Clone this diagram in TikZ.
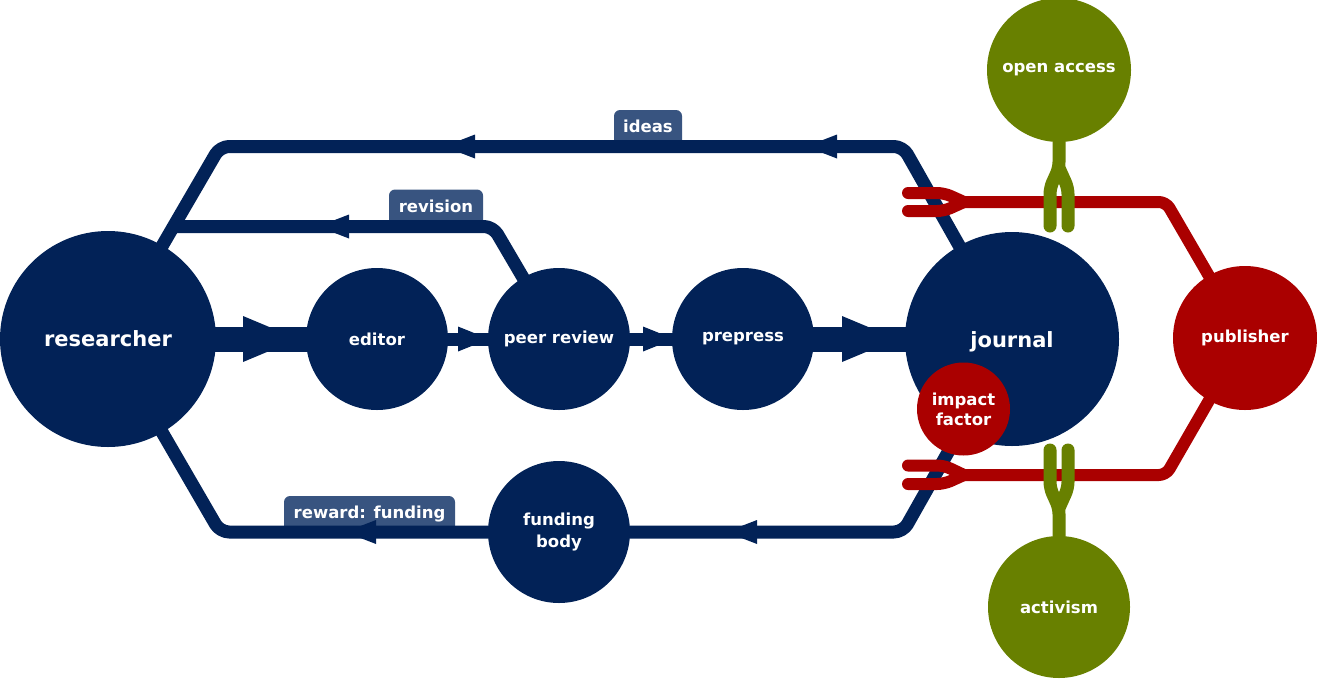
\documentclass[tikz,border=0pt]{standalone}
\usepackage{fontspec}
\setmainfont{DejaVu Sans}
\definecolor{navy}{RGB}{2,34,87}
\definecolor{lblue}{RGB}{56,84,128}
\definecolor{dred}{RGB}{170,0,0}
\definecolor{olive}{RGB}{104,128,0}
\pgfdeclarelayer{back}
\pgfdeclarelayer{mid}
\pgfsetlayers{back,mid,main}
\begin{document}
\begin{tikzpicture}[x=1pt,y=-1pt,
  circ/.style={circle,inner sep=0pt,text=white,align=center,
    font=\fontsize{16.5}{20}\selectfont\bfseries},
  bigtext/.style={font=\fontsize{21}{24}\selectfont\bfseries},
  lbl/.style={fill=lblue,text=white,rounded corners=6pt,inner xsep=9pt,inner ysep=0pt,
    text height=12pt,text depth=3pt,font=\fontsize{16.5}{20}\selectfont\bfseries},
  thinline/.style={draw=navy,line width=13pt,rounded corners=9pt,line join=round},
  thickline/.style={draw=navy,line width=25pt},
  redline/.style={draw=dred,line width=12pt,rounded corners=7pt,line join=round,line cap=round},
  greenline/.style={draw=olive,line width=13pt,rounded corners=6pt,line join=round,line cap=round}
]
\useasboundingbox (0,0) rectangle (1317,678);

% navy circles
\node[circ,bigtext,fill=navy,minimum size=216pt] (researcher) at (108,339) {researcher};
\node[circ,fill=navy,minimum size=142pt] (editor) at (377,339) {editor};
\node[circ,fill=navy,minimum size=142pt] (peerreview) at (559,339) {peer review};
\node[circ,fill=navy,minimum size=142pt] (prepress) at (743,339) {prepress};
\node[circ,bigtext,fill=navy,minimum size=214pt,text height=16pt,text depth=0pt] (journal) at (1012,339) {journal};
\node[circ,fill=navy,minimum size=142pt,font=\fontsize{16.5}{21.5}\selectfont\bfseries] (fundingbody) at (559,532) {funding\\body};

% corner coordinates
\coordinate (iR) at (903,146.5);
\coordinate (iL) at (220,146.5);
\coordinate (rR) at (493,226.5);
\coordinate (rL) at (173.5,226.5);
\coordinate (fL) at (220,532);
\coordinate (fR) at (903,532);

% labels
\begin{pgfonlayer}{back}
\node[lbl,minimum height=36pt,minimum width=68pt] (ideaslbl) at (648,128) {ideas};
\node[lbl,minimum height=37pt,minimum width=94pt] (revisionlbl) at (436,208) {revision};
\node[lbl,minimum height=36pt,minimum width=171pt] (rewardlbl) at (369.5,514) {reward: funding};
\end{pgfonlayer}

% navy lines
\begin{pgfonlayer}{mid}
\draw[thinline] (journal.center) -- (iR) -- (iL) -- (researcher.center);
\draw[thinline] (peerreview.center) -- (rR) -- (rL);
\draw[thinline] (fundingbody.center) -- (fL) -- (researcher.center);
\draw[thinline] (fundingbody.center) -- (fR) -- (journal.center);
\draw[thickline] (researcher.center) -- (editor.center);
\draw[thinline] (editor.center) -- (peerreview.center);
\draw[thinline] (peerreview.center) -- (prepress.center);
\draw[thickline] (prepress.center) -- (journal.center);
% arrowheads
\fill[navy] (243,316) -- (298,339) -- (243,362) -- cycle;
\fill[navy] (458,326.5) -- (489,339) -- (458,351.5) -- cycle;
\fill[navy] (643,326.5) -- (674,339) -- (643,351.5) -- cycle;
\fill[navy] (842,316) -- (897,339) -- (842,362) -- cycle;
\fill[navy] (837,134.5) -- (806,146.5) -- (837,158.5) -- cycle;
\fill[navy] (475,134.5) -- (444,146.5) -- (475,158.5) -- cycle;
\fill[navy] (349,214.5) -- (318,226.5) -- (349,238.5) -- cycle;
\fill[navy] (376,520) -- (345,532) -- (376,544) -- cycle;
\fill[navy] (757,520) -- (726,532) -- (757,544) -- cycle;
\end{pgfonlayer}

% red
\node[circ,fill=dred,minimum size=93pt] (impact) at (963.5,409) {impact\\factor};
\coordinate (pU) at (1166,202);
\coordinate (mU) at (964,202);
\coordinate (aU) at (908,193);
\coordinate (bU) at (908,211);
\coordinate (pD) at (1166,475);
\coordinate (mD) at (964,475);
\coordinate (aD) at (908,465.5);
\coordinate (bD) at (908,484);
\draw[redline] (mU) -- (pU) -- (1245,338);
\draw[redline] (mU) -- (944,193) -- (aU);
\draw[redline] (mU) -- (944,211) -- (bU);
\draw[redline] (mD) -- (pD) -- (1245,338);
\draw[redline] (mD) -- (944,465.5) -- (aD);
\draw[redline] (mD) -- (944,484) -- (bD);
\node[circ,fill=dred,minimum size=144pt] (publisher) at (1245,338) {publisher};

% green
\coordinate (gU) at (1059,168);
\coordinate (gU1) at (1050,226);
\coordinate (gU2) at (1068,226);
\coordinate (gD) at (1059,508);
\coordinate (gD1) at (1050,450);
\coordinate (gD2) at (1068,450);
\draw[greenline] (1059,70) -- (gU) -- (1050,188) -- (gU1);
\draw[greenline] (gU) -- (1068,188) -- (gU2);
\draw[greenline] (1059,607) -- (gD) -- (1050,488) -- (gD1);
\draw[greenline] (gD) -- (1068,488) -- (gD2);
\node[circ,fill=olive,minimum size=144pt] (openaccess) at (1059,70) {open access};
\node[circ,fill=olive,minimum size=142pt] (activism) at (1059,607) {activism};
\end{tikzpicture}
\end{document}
